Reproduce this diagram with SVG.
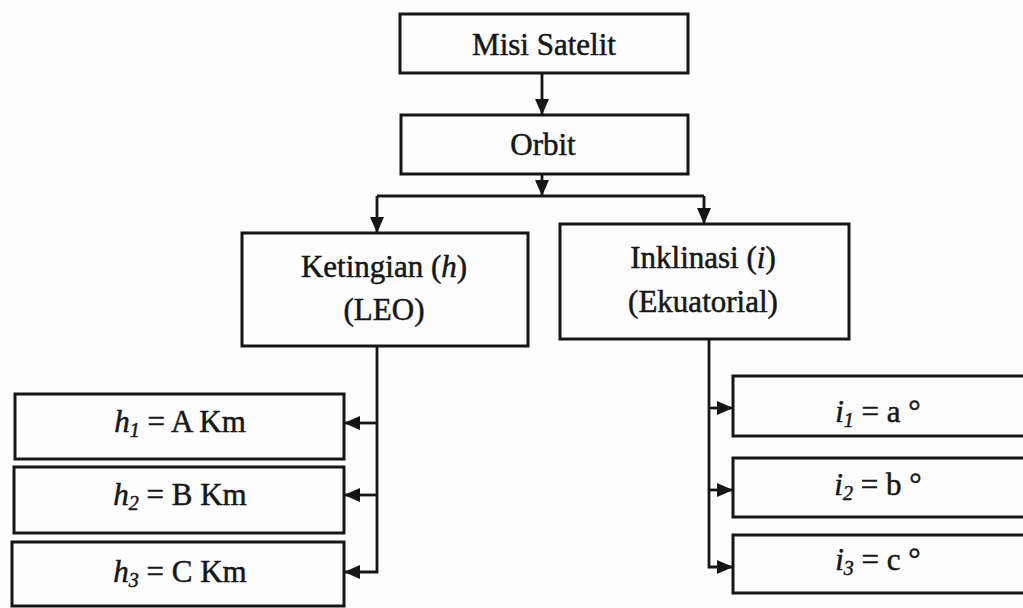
<svg xmlns="http://www.w3.org/2000/svg" width="1023" height="608" viewBox="0 0 1023 608">
<style>
.box{fill:#fdfdfd;stroke:#161616;stroke-width:3}
.t{font-family:"Liberation Serif","Times New Roman",serif;font-size:31px;fill:#161616;stroke:#161616;stroke-width:0.5;text-anchor:middle}
.it{font-style:italic}
.sub{font-style:italic;font-size:20px}
.ln{fill:none;stroke:#161616;stroke-width:2.8}
.ar{marker-end:url(#ah)}
</style>
<defs>
<marker id="ah" viewBox="0 0 16 14" refX="15" refY="7" markerWidth="16" markerHeight="14" orient="auto" markerUnits="userSpaceOnUse">
<path d="M0,0 L16,7 L0,14 z" fill="#161616"/>
</marker>
</defs>
<rect width="1023" height="608" fill="#fdfdfd"/>
<g id="connectors">
<path class="ln ar" d="M542,73 V114"/>
<path class="ln ar" d="M542,174 V195"/>
<path class="ln" d="M377,196 H704"/>
<path class="ln ar" d="M377,196 V232"/>
<path class="ln ar" d="M704,196 V223"/>
<path class="ln ar" d="M377,346 V572 H345"/>
<path class="ln ar" d="M377,423 H345"/>
<path class="ln ar" d="M377,495 H345"/>
<path class="ln ar" d="M709,339 V567 H732"/>
<path class="ln ar" d="M709,408 H732"/>
<path class="ln ar" d="M709,490 H732"/>
</g>
<g id="misi">
<rect class="box" x="400" y="14" width="288" height="59"/>
<text class="t" x="544" y="55">Misi Satelit</text>
</g>
<g id="orbit">
<rect class="box" x="401" y="115" width="287" height="59"/>
<text class="t" x="543" y="155">Orbit</text>
</g>
<g id="ketinggian">
<rect class="box" x="242" y="233" width="286" height="113"/>
<text class="t" x="384" y="277">Ketingian (<tspan class="it">h</tspan>)</text>
<text class="t" x="384" y="320">(LEO)</text>
</g>
<g id="inklinasi">
<rect class="box" x="560" y="224" width="289" height="115"/>
<text class="t" x="703" y="268">Inklinasi (<tspan class="it">i</tspan>)</text>
<text class="t" x="703" y="312">(Ekuatorial)</text>
</g>
<g id="h1">
<rect class="box" x="15" y="394" width="329" height="65"/>
<text class="t" x="180" y="432"><tspan class="it">h</tspan><tspan class="sub" dy="5">1</tspan><tspan dy="-5"> = A Km</tspan></text>
</g>
<g id="h2">
<rect class="box" x="14" y="467" width="330" height="66"/>
<text class="t" x="180" y="505"><tspan class="it">h</tspan><tspan class="sub" dy="5">2</tspan><tspan dy="-5"> = B Km</tspan></text>
</g>
<g id="h3">
<rect class="box" x="12" y="542" width="332" height="64"/>
<text class="t" x="180" y="582"><tspan class="it">h</tspan><tspan class="sub" dy="5">3</tspan><tspan dy="-5"> = C Km</tspan></text>
</g>
<g id="i1">
<rect class="box" x="733" y="376" width="300" height="60"/>
<text class="t" x="878" y="422"><tspan class="it">i</tspan><tspan class="sub" dy="5">1</tspan><tspan dy="-5"> = a °</tspan></text>
</g>
<g id="i2">
<rect class="box" x="733" y="458" width="300" height="59"/>
<text class="t" x="878" y="495"><tspan class="it">i</tspan><tspan class="sub" dy="5">2</tspan><tspan dy="-5"> = b °</tspan></text>
</g>
<g id="i3">
<rect class="box" x="733" y="535" width="300" height="58"/>
<text class="t" x="878" y="570"><tspan class="it">i</tspan><tspan class="sub" dy="5">3</tspan><tspan dy="-5"> = c °</tspan></text>
</g>
</svg>
